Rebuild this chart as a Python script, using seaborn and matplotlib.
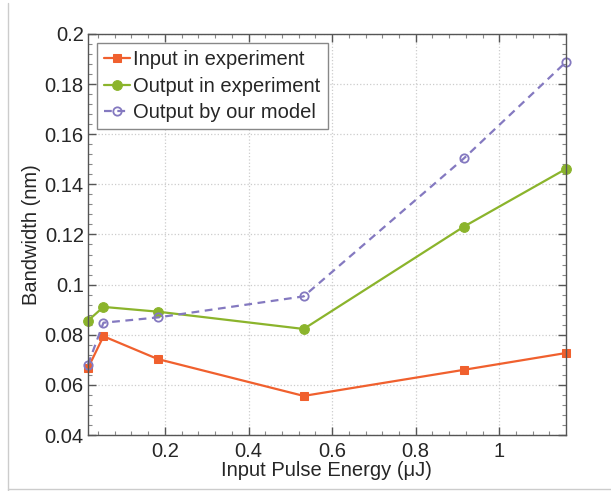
import numpy as np
import pandas as pd
import matplotlib
matplotlib.use("Agg")
import matplotlib.pyplot as plt
from matplotlib.ticker import MultipleLocator, FormatStrFormatter
from matplotlib.lines import Line2D
import seaborn as sns

# ── Dados ─────────────────────────────────────────────────────────────────────
energia = [0.016, 0.053, 0.183, 0.532, 0.915, 1.159]
entrada_exp = [0.0667, 0.0794, 0.0703, 0.0556, 0.0660, 0.0727]
saida_exp = [0.0856, 0.0911, 0.0892, 0.0823, 0.1231, 0.1461]
saida_modelo = [0.0681, 0.0848, 0.0869, 0.0953, 0.1503, 0.1887]

SERIES = ["Input in experiment", "Output in experiment", "Output by our model"]
CORES = ["#F0602E", "#8BB42C", "#8479C0"]

df = pd.DataFrame({
    "x": energia * 3,
    "y": entrada_exp + saida_exp + saida_modelo,
    "serie": [s for s in SERIES for _ in energia],
})

sns.set_style("white")
plt.rcParams["font.family"] = ["Liberation Sans", "DejaVu Sans"]
FS = 14.5

fig = plt.figure(figsize=(6.11, 4.91), dpi=100)
ax = fig.add_axes([0.144, 0.114, 0.782, 0.817])

estilos = {
    SERIES[0]: dict(marker="s", ms=6, mfc=CORES[0], mec=CORES[0], ls="-"),
    SERIES[1]: dict(marker="o", ms=7, mfc=CORES[1], mec=CORES[1], ls="-"),
    SERIES[2]: dict(marker="o", ms=6, mfc="none", mec=CORES[2], mew=1.3, ls=(0, (3.5, 2.5))),
}
for serie, cor in zip(SERIES, CORES):
    sub = df[df["serie"] == serie]
    sns.lineplot(data=sub, x="x", y="y", ax=ax, color=cor, lw=1.6,
                 estimator=None, sort=False, label=serie, clip_on=False,
                 **estilos[serie])

# ── Eixos ─────────────────────────────────────────────────────────────────────
ax.set_xlim(0.016, 1.159)
ax.set_ylim(0.04, 0.2)
ax.xaxis.set_major_locator(MultipleLocator(0.2))
ax.xaxis.set_minor_locator(MultipleLocator(0.04))
ax.yaxis.set_major_locator(MultipleLocator(0.02))
ax.yaxis.set_minor_locator(MultipleLocator(0.004))
ax.xaxis.set_major_formatter(FormatStrFormatter("%g"))
ax.yaxis.set_major_formatter(FormatStrFormatter("%g"))
ax.tick_params(which="both", direction="in", top=True, right=True,
               bottom=True, left=True, color="#555555", labelsize=FS)
ax.tick_params(which="major", length=6, width=1)
ax.tick_params(which="minor", length=3, width=0.8, color="#888888")
ax.tick_params(axis="x", pad=5)
ax.tick_params(axis="y", pad=3)
for sp in ax.spines.values():
    sp.set_color("#555555")
    sp.set_linewidth(1)
ax.grid(True, which="major", ls=":", color="#cccccc", lw=0.9)
ax.set_axisbelow(True)

ax.set_xlabel("Input Pulse Energy (μJ)", fontsize=FS, labelpad=0)
ax.set_ylabel("Bandwidth (nm)", fontsize=FS, labelpad=3)

leg = ax.legend(loc="upper left", fontsize=FS, frameon=True, fancybox=False,
                edgecolor="#888888", framealpha=1, borderaxespad=0.45,
                handlelength=1.3, handletextpad=0.15, labelspacing=0.38,
                borderpad=0.35)
leg.get_frame().set_linewidth(1)

# moldura cinza da figura
fig.add_artist(Line2D([8 / 611, 8 / 611], [0, 1 - 2.5 / 491], color="#cccccc", lw=1))
fig.add_artist(Line2D([8 / 611, 1], [1 - 488.5 / 491] * 2, color="#cccccc", lw=1))

plt.savefig("out.png", dpi=100)
